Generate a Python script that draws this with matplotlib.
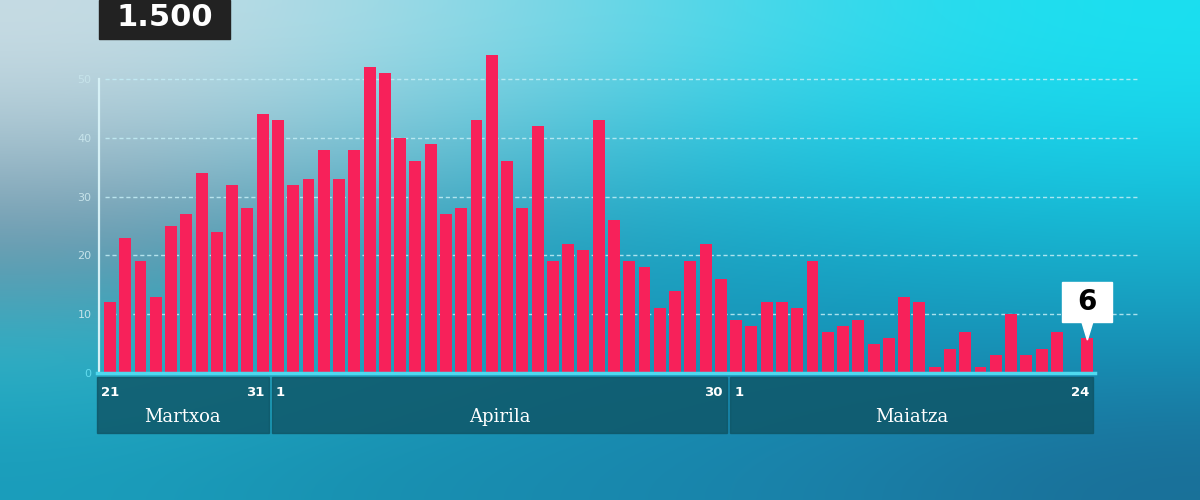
import matplotlib
matplotlib.use("Agg")
import matplotlib.pyplot as plt
from matplotlib.patches import Rectangle, Polygon
import numpy as np

# daily values, 21 March -> 24 May
march = [12, 23, 19, 13, 25, 27, 34, 24, 32, 28, 44]
april = [43, 32, 33, 38, 33, 38, 52, 51, 40, 36, 39, 27, 28, 43, 54,
         36, 28, 42, 19, 22, 21, 43, 26, 19, 18, 11, 14, 19, 22, 16]
may = [9, 8, 12, 12, 11, 19, 7, 8, 9, 5, 6, 13, 12, 1, 4, 7, 1, 3, 10, 3,
       4, 7, 0, 6]
month_names = ["Martxoa", "Apirila", "Maiatza"]
month_first_day = [21, 1, 1]
month_last_day = [31, 30, 24]
total_label = "1.500"
ytick_values = [0, 10, 20, 30, 40, 50]

values = march + april + may
x = np.arange(len(values))

W, H = 1200, 500
fig = plt.figure(figsize=(12, 5), dpi=100)

# background gradient (5x5 control colours, smoothed)
bg_hex = [
    ["#c8dce4", "#a6dbe6", "#6fd6e6", "#35d9ec", "#1ae0f0"],
    ["#a2bfcc", "#7cc2d4", "#40bcd4", "#1dc6e0", "#18cde6"],
    ["#6a92a8", "#3c9ab4", "#1f9fbe", "#17a8c8", "#17b0cc"],
    ["#2db4c8", "#1ea8c4", "#1896b8", "#1790b6", "#1790b6"],
    ["#1a9dbb", "#1890b0", "#1888ae", "#1a80a8", "#1a6f98"],
]
bg = np.array([[matplotlib.colors.to_rgb(c) for c in row] for row in bg_hex])
bax = fig.add_axes([0, 0, 1, 1])
bax.imshow(bg, aspect="auto", interpolation="bicubic", extent=[0, 1, 0, 1])
bax.set_axis_off()

# title box
fig.patches.append(Rectangle((99 / W, 1 - 39 / H), 131 / W, 39 / H,
                             transform=fig.transFigure, color="#222222"))
fig.text(165 / W, 1 - 17 / H, total_label, color="white", fontsize=22,
         fontweight="bold", ha="center", va="center")

# main axes: 0 at y=373px, 50 at y=79px
px_per_unit = (373 - 79) / 50
ax = fig.add_axes([97 / W, 1 - 373 / H, 998 / W, 55 * px_per_unit / H])
ax.set_facecolor("none")
ax.set_xlim(-0.85, 64.5)
ax.set_ylim(0, 55)
for s in ax.spines.values():
    s.set_visible(False)

for yv in ytick_values[1:]:
    ax.axhline(yv, xmin=0.008, xmax=1.043, color="#c4eef6", lw=1,
               dashes=(3, 2), alpha=0.85, clip_on=False, zorder=1)

ax.bar(x, values, width=0.78, color="#f7215a", zorder=3)

ax.axvline(-0.72, ymin=0, ymax=50 / 55, color="#d6f1f6", lw=1.6, zorder=4)
ax.axhline(0, color="#4fd9ef", lw=2.5, clip_on=False, zorder=4)

ax.set_xticks([])
ax.set_yticks(ytick_values)
ax.tick_params(axis="y", length=0, pad=4, labelsize=8)
for lab, yv in zip(ax.get_yticklabels(), ytick_values):
    lab.set_color("#62dcef" if yv == 0 else "#c6e3ea")

# month bands under the bars
u = 1 / px_per_unit
start = 0
lengths = [len(march), len(april), len(may)]
for i, (name, n) in enumerate(zip(month_names, lengths)):
    left = start - 0.5 + 0.12
    right = start + n - 0.5 - 0.12
    if i == 0:
        left = -0.85
    if i == len(lengths) - 1:
        right = start + n - 0.6
    ax.add_patch(Rectangle((left, -433 * u + 373 * u), right - left, 56 * u,
                           color="#0f5566", alpha=0.82, clip_on=False,
                           zorder=2))
    ax.text(left + 0.25, -19 * u, str(month_first_day[i]), color="white",
            fontsize=9.5, fontweight="bold", ha="left", va="center")
    ax.text(right - 0.25, -19 * u, str(month_last_day[i]), color="white",
            fontsize=9.5, fontweight="bold", ha="right", va="center")
    ax.text((left + right) / 2, -44 * u, name, color="white", fontsize=13,
            family="DejaVu Serif", ha="center", va="center")
    start += n

# callout on the last value
last_x, last_v = x[-1], values[-1]
base = last_v + 16 * u
bw, bh = 50 / 15.27, 40 * u
ax.add_patch(Rectangle((last_x - bw / 2, base), bw, bh, color="white",
                       clip_on=False, zorder=6))
ax.add_patch(Polygon([[last_x - 0.37, base + 0.05], [last_x + 0.37, base + 0.05],
                      [last_x, last_v - 0.4]], color="white", clip_on=False,
                     zorder=6))
ax.text(last_x, base + bh / 2, str(last_v), color="black", fontsize=20,
        fontweight="bold", ha="center", va="center", zorder=7)

fig.savefig("out.png", dpi=100)
